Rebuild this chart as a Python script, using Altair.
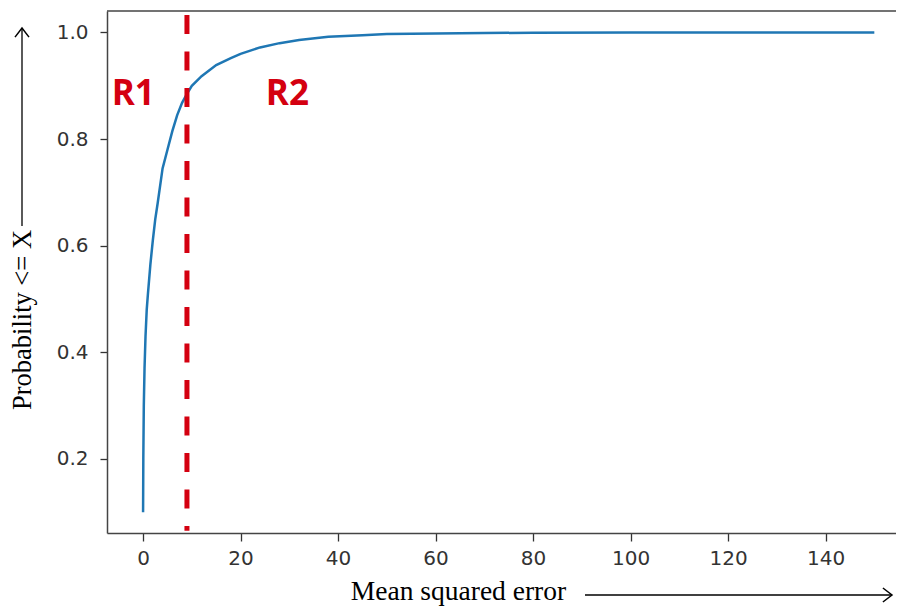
import altair as alt
import pandas as pd

# ---- data ----
mse = [0, 0.05, 0.15, 0.3, 0.5, 0.75, 1.0, 1.5, 2.0, 2.5, 3, 4, 5, 6, 7, 8, 9, 10,
       12, 15, 18, 20, 24, 28, 32, 38, 45, 50, 60, 70, 80, 100, 120, 150]
prob = [0.10, 0.20, 0.30, 0.37, 0.43, 0.48, 0.51, 0.565, 0.61, 0.65, 0.68, 0.745,
        0.78, 0.815, 0.845, 0.868, 0.885, 0.90, 0.918, 0.939, 0.952, 0.96, 0.972,
        0.98, 0.986, 0.992, 0.995, 0.997, 0.998, 0.999, 0.9995, 1.0, 1.0, 1.0]
x_ticks = [0, 20, 40, 60, 80, 100, 120, 140]
y_ticks = [0.2, 0.4, 0.6, 0.8, 1.0]
threshold = [9.0]
threshold_top = [1.033]
threshold_bottom = [0.065]
region_labels = ["R1", "R2"]
region_x = [-2.0, 29.6]
region_y = [0.884, 0.884]

RED = "#d40010"
W, H = 789, 522
X_DOM = [-7.4, -7.4 + W / 4.875]
Y_DOM = [0.061, 1.0403]

xscale = alt.Scale(domain=X_DOM, nice=False, zero=False)
yscale = alt.Scale(domain=Y_DOM, nice=False, zero=False)

curve = alt.Chart(pd.DataFrame({"mse": mse, "prob": prob})).mark_line(
    color="#1f77b4", strokeWidth=2.5, clip=True
).encode(
    x=alt.X("mse:Q", scale=xscale, axis=alt.Axis(
        values=x_ticks, format="d", title="Mean squared error",
        grid=False, domain=True, domainColor="#444", domainWidth=1.5,
        labelFont="DejaVu Sans", labelFontSize=20,
        labelColor="#333", tickColor="#333", tickSize=8, tickWidth=1.3,
        labelPadding=7, labelFlush=False, labelOverlap=False,
        titleFont="Liberation Serif", titleFontSize=27.5, titleFontWeight="normal",
        titleColor="black", titleX=351, titleY=66, titleAlign="center",
        titleBaseline="alphabetic")),
    y=alt.Y("prob:Q", scale=yscale, axis=alt.Axis(
        values=y_ticks, format=".1f", title="Probability <= X",
        grid=False, domain=True, domainColor="#444", domainWidth=1.5,
        labelFont="DejaVu Sans", labelFontSize=20,
        labelColor="#333", tickColor="#333", tickSize=7, tickWidth=1.3,
        labelPadding=12, labelOverlap=False,
        titleFont="Liberation Serif", titleFontSize=26.5, titleFontWeight="normal",
        titleColor="black", titleX=-85, titleY=308.5, titleAngle=270,
        titleAlign="center", titleBaseline="middle")),
)

dashed = alt.Chart(pd.DataFrame({"x": threshold, "y": threshold_top, "y2": threshold_bottom})).mark_rule(
    color=RED, strokeWidth=5, strokeDash=[19, 17.5]
).encode(
    x=alt.X("x:Q", scale=xscale),
    y=alt.Y("y:Q", scale=yscale),
    y2="y2:Q",
)

labels = alt.Chart(pd.DataFrame({"t": region_labels, "x": region_x, "y": region_y})).mark_text(
    font="Open Sans", fontWeight="bold", fontSize=35, color=RED,
    align="center", baseline="middle"
).encode(
    x=alt.X("x:Q", scale=xscale),
    y=alt.Y("y:Q", scale=yscale),
    text="t:N",
)

one = pd.DataFrame({"a": [0]})
top_spine = alt.Chart(one).mark_rule(color="#444", strokeWidth=1.5).encode(
    x=alt.value(0), x2=alt.value(W), y=alt.value(0))
x_arrow_line = alt.Chart(one).mark_rule(color="black", strokeWidth=1.3).encode(
    x=alt.value(478), x2=alt.value(784), y=alt.value(584))
x_arrow_head = alt.Chart(one).mark_point(
    shape="M-1.3,-1L0,0L-1.3,1", size=196, filled=False, stroke="black",
    strokeWidth=1.5, opacity=1
).encode(x=alt.value(785), y=alt.value(584))
y_arrow_line = alt.Chart(one).mark_rule(color="black", strokeWidth=1.3).encode(
    x=alt.value(-85), y=alt.value(18), y2=alt.value(215))
y_arrow_head = alt.Chart(one).mark_point(
    shape="M-1,1.3L0,0L1,1.3", size=196, filled=False, stroke="black",
    strokeWidth=1.5, opacity=1
).encode(x=alt.value(-85), y=alt.value(17))

chart = alt.layer(
    curve, dashed, labels, top_spine, x_arrow_line, x_arrow_head, y_arrow_line, y_arrow_head
).properties(
    width=W, height=H,
    autosize=alt.AutoSizeParams(type="none"),
    padding={"left": 99, "top": 3, "right": 0, "bottom": 75},
    background="white",
).configure_view(stroke=None)

chart.save("out.html", embed_options={"renderer": "svg", "actions": False})
